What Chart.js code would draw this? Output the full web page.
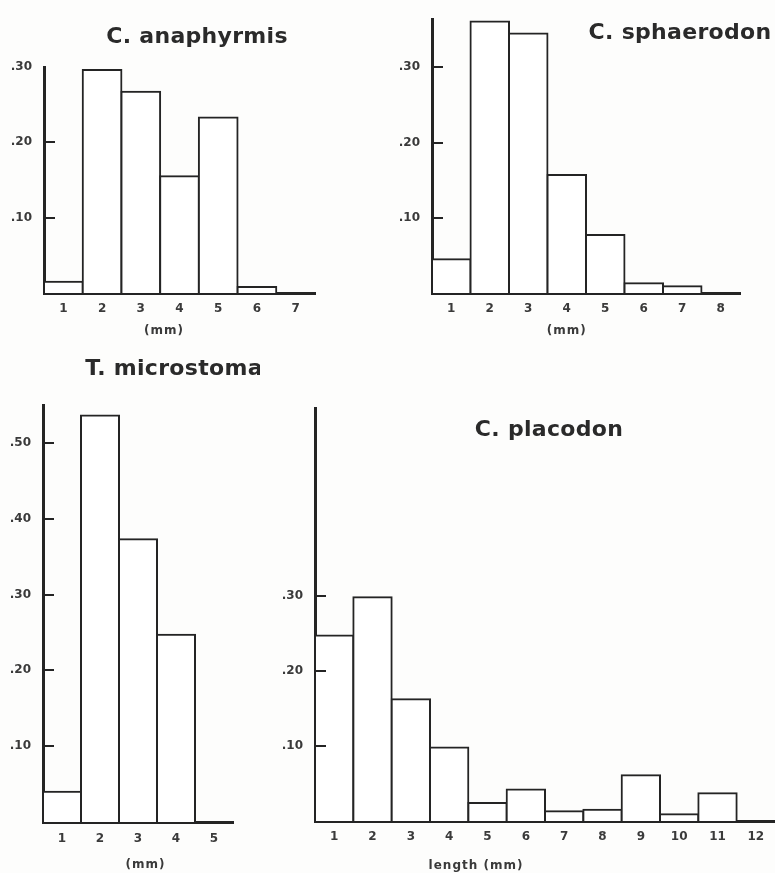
<!DOCTYPE html>
<html>
<head>
<meta charset="utf-8">
<title>Length frequency histograms</title>
<script src="https://cdn.jsdelivr.net/npm/chart.js@4.4.1/dist/chart.umd.min.js"></script>
<style>
    html, body { margin: 0; padding: 0; background: #fdfdfc; }
    #page { position: relative; width: 775px; height: 873px; overflow: hidden; }
    canvas { position: absolute; }
</style>
</head>
<body>
<div id="page">
    <canvas id="anaphyrmis" width="390" height="345" style="left:0px;top:0px"></canvas>
    <canvas id="sphaerodon" width="385" height="345" style="left:390px;top:0px"></canvas>
    <canvas id="microstoma" width="260" height="528" style="left:0px;top:345px"></canvas>
    <canvas id="placodon" width="515" height="528" style="left:260px;top:345px"></canvas>
</div>
<script>
// Length classes (mm) and relative frequencies
// (the last class on each axis has no bar)
const anaphyrmisLengths = ['1', '2', '3', '4', '5', '6', '7'];
const anaphyrmisFreq = [0.015, 0.296, 0.267, 0.155, 0.233, 0.008];
const anaphyrmisTicks = [0.1, 0.2, 0.3];

const sphaerodonLengths = ['1', '2', '3', '4', '5', '6', '7', '8'];
const sphaerodonFreq = [0.045, 0.361, 0.345, 0.157, 0.077, 0.013, 0.009];
const sphaerodonTicks = [0.1, 0.2, 0.3];

const microstomaLengths = ['1', '2', '3', '4', '5'];
const microstomaFreq = [0.040, 0.536, 0.373, 0.247];
const microstomaTicks = [0.1, 0.2, 0.3, 0.4, 0.5];

const placodonLengths = ['1', '2', '3', '4', '5', '6', '7', '8', '9', '10', '11', '12'];
const placodonFreq = [0.247, 0.298, 0.162, 0.098, 0.024, 0.042, 0.013, 0.015, 0.061, 0.009, 0.037];
const placodonTicks = [0.1, 0.2, 0.3];

const INK = '#242424';
const TEXT = '#3a3a3a';
const FONT = '"DejaVu Sans", sans-serif';

// Draws the inward tick marks, the species name and the unit label
const panelText = {
    id: 'panelText',
    afterDraw(chart, args, opts) {
        const { ctx, chartArea, scales } = chart;
        ctx.save();
        ctx.strokeStyle = INK;
        ctx.lineWidth = 2;
        scales.y.ticks.forEach(t => {
            if (t.value >= scales.y.max - 0.005) return;
            const py = Math.round(scales.y.getPixelForValue(t.value));
            ctx.beginPath();
            ctx.moveTo(chartArea.left, py);
            ctx.lineTo(chartArea.left + 11, py);
            ctx.stroke();
        });
        ctx.fillStyle = '#2a2a2a';
        ctx.textAlign = 'center';
        ctx.textBaseline = 'middle';
        ctx.font = 'bold 22px ' + FONT;
        ctx.letterSpacing = '0.3px';
        ctx.fillText(opts.title, opts.titleX, opts.titleY);
        ctx.fillStyle = TEXT;
        ctx.font = 'bold 12px ' + FONT;
        ctx.letterSpacing = '1px';
        ctx.fillText(opts.unit, scales.x.getPixelForValue(opts.unitAt), chartArea.bottom + opts.unitDy);
        ctx.restore();
    }
};

function makePanel(id, labels, values, ticks, max, box, text) {
    const ctx = document.getElementById(id).getContext('2d');
    return new Chart(ctx, {
        type: 'bar',
        data: {
            labels: labels,
            datasets: [{
                data: values,
                backgroundColor: '#ffffff',
                borderColor: INK,
                borderWidth: 2,
                inflateAmount: 1,
                barPercentage: 1,
                categoryPercentage: 1
            }]
        },
        options: {
            responsive: false,
            animation: false,
            devicePixelRatio: 1,
            layout: { padding: { left: 0, top: box.top, right: box.right, bottom: 0 } },
            plugins: {
                legend: { display: false },
                tooltip: { enabled: false },
                panelText: text
            },
            scales: {
                x: {
                    z: 1,
                    grid: { display: false, drawTicks: false },
                    border: { display: true, color: INK, width: 3 },
                    ticks: {
                        color: TEXT,
                        font: { family: FONT, size: 12, weight: 'bold' },
                        padding: box.xPad,
                        autoSkip: false,
                        maxRotation: 0
                    },
                    afterFit: s => { s.height = box.xHeight; }
                },
                y: {
                    z: 1,
                    min: 0,
                    max: max,
                    grid: { display: false, drawTicks: false },
                    border: { display: true, color: INK, width: 3 },
                    ticks: {
                        color: TEXT,
                        font: { family: FONT, size: 12, weight: 'bold' },
                        padding: 12,
                        callback: v => v.toFixed(2).replace(/^0/, '')
                    },
                    afterBuildTicks: s => { s.ticks = ticks.map(v => ({ value: v })); },
                    afterFit: s => { s.width = box.yWidth; }
                }
            }
        },
        plugins: [panelText]
    });
}

makePanel('anaphyrmis', anaphyrmisLengths, anaphyrmisFreq, anaphyrmisTicks, 0.30,
    { top: 67, right: 75, yWidth: 44, xHeight: 52, xPad: 9 },
    { title: 'C. anaphyrmis', titleX: 197, titleY: 37, unit: '(mm)', unitAt: 2.6, unitDy: 38 });

makePanel('sphaerodon', sphaerodonLengths, sphaerodonFreq, sphaerodonTicks, 0.364,
    { top: 13, right: 35, yWidth: 42, xHeight: 52, xPad: 9 },
    { title: 'C. sphaerodon', titleX: 290, titleY: 33, unit: '(mm)', unitAt: 3.0, unitDy: 38 });

makePanel('microstoma', microstomaLengths, microstomaFreq, microstomaTicks, 0.55,
    { top: 60, right: 27, yWidth: 43, xHeight: 51, xPad: 10 },
    { title: 'T. microstoma', titleX: 174, titleY: 24, unit: '(mm)', unitAt: 2.2, unitDy: 43 });

makePanel('placodon', placodonLengths, placodonFreq, placodonTicks, 0.55,
    { top: 63, right: 0, yWidth: 55, xHeight: 52, xPad: 9 },
    { title: 'C. placodon', titleX: 289, titleY: 85, unit: 'length (mm)', unitAt: 3.7, unitDy: 45 });
</script>
</body>
</html>
